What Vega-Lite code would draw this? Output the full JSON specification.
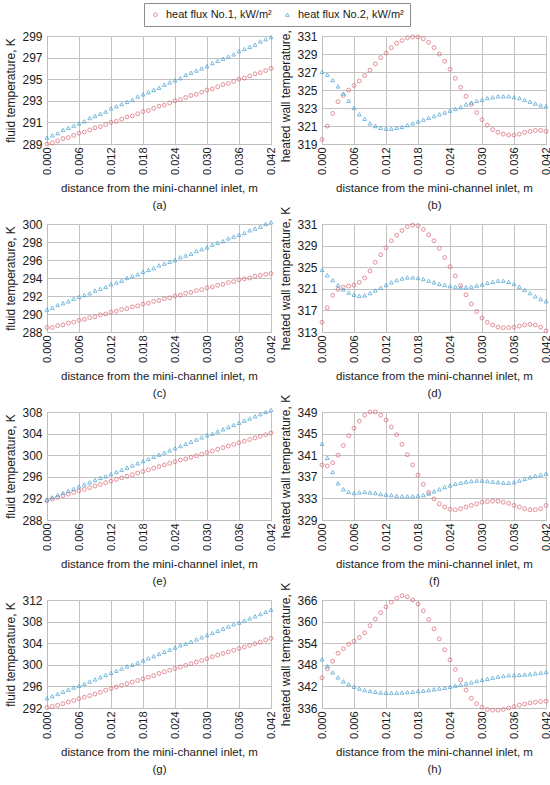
{
  "$schema": "https://vega.github.io/schema/vega-lite/v6.json",
  "padding": {"left": 4, "top": 2, "right": 4, "bottom": 2},
  "columns": 2,
  "bounds": "flush",
  "spacing": {"row": 80, "column": 51},
  "config": {
    "font": "Liberation Sans",
    "view": {"stroke": "#bdbdbd"},
    "axis": {"gridColor": "#c2c2c2", "domainColor": "#bdbdbd", "ticks": false, "labelColor": "#1a1a1a", "titleColor": "#1a1a1a", "titleFontWeight": "normal"},
    "axisX": {"labelAngle": -90, "labelFontSize": 11, "labelPadding": 3, "titleFontSize": 11.5, "titlePadding": 8, "titleLineHeight": 17},
    "axisY": {"labelFontSize": 12, "labelPadding": 5, "titleFontSize": 12, "titlePadding": 4},
    "point": {"filled": false, "size": 15, "strokeWidth": 1},
    "range": {"category": ["#d9606b", "#3f9fd5"], "symbol": ["circle", "triangle-up"]},
    "legend": {"labelFontSize": 11, "labelColor": "#1a1a1a", "symbolSize": 14, "symbolStrokeWidth": 1, "labelOffset": 5, "columnPadding": 10, "strokeColor": "#8c8c8c", "fillColor": "#ffffff", "padding": 6}
  },
  "datasets": {
    "a1": [{"x":0,"t":289.0},{"x":0.001,"t":289.1},{"x":0.002,"t":289.3},{"x":0.003,"t":289.5},{"x":0.004,"t":289.6},{"x":0.005,"t":289.8},{"x":0.006,"t":290.0},{"x":0.007,"t":290.1},{"x":0.008,"t":290.3},{"x":0.009,"t":290.5},{"x":0.01,"t":290.6},{"x":0.011,"t":290.8},{"x":0.012,"t":291.0},{"x":0.013,"t":291.1},{"x":0.014,"t":291.3},{"x":0.015,"t":291.5},{"x":0.016,"t":291.6},{"x":0.017,"t":291.8},{"x":0.018,"t":292.0},{"x":0.019,"t":292.1},{"x":0.02,"t":292.3},{"x":0.021,"t":292.5},{"x":0.022,"t":292.6},{"x":0.023,"t":292.8},{"x":0.024,"t":293.0},{"x":0.025,"t":293.1},{"x":0.026,"t":293.3},{"x":0.027,"t":293.5},{"x":0.028,"t":293.6},{"x":0.029,"t":293.8},{"x":0.03,"t":294.0},{"x":0.031,"t":294.1},{"x":0.032,"t":294.3},{"x":0.033,"t":294.5},{"x":0.034,"t":294.6},{"x":0.035,"t":294.8},{"x":0.036,"t":295.0},{"x":0.037,"t":295.1},{"x":0.038,"t":295.3},{"x":0.039,"t":295.5},{"x":0.04,"t":295.6},{"x":0.041,"t":295.8},{"x":0.042,"t":296.0}],
    "a2": [{"x":0,"t":289.6},{"x":0.001,"t":289.8},{"x":0.002,"t":290.0},{"x":0.003,"t":290.3},{"x":0.004,"t":290.5},{"x":0.005,"t":290.7},{"x":0.006,"t":290.9},{"x":0.007,"t":291.1},{"x":0.008,"t":291.4},{"x":0.009,"t":291.6},{"x":0.01,"t":291.8},{"x":0.011,"t":292.0},{"x":0.012,"t":292.3},{"x":0.013,"t":292.5},{"x":0.014,"t":292.7},{"x":0.015,"t":292.9},{"x":0.016,"t":293.1},{"x":0.017,"t":293.4},{"x":0.018,"t":293.6},{"x":0.019,"t":293.8},{"x":0.02,"t":294.0},{"x":0.021,"t":294.2},{"x":0.022,"t":294.5},{"x":0.023,"t":294.7},{"x":0.024,"t":294.9},{"x":0.025,"t":295.1},{"x":0.026,"t":295.4},{"x":0.027,"t":295.6},{"x":0.028,"t":295.8},{"x":0.029,"t":296.0},{"x":0.03,"t":296.2},{"x":0.031,"t":296.5},{"x":0.032,"t":296.7},{"x":0.033,"t":296.9},{"x":0.034,"t":297.1},{"x":0.035,"t":297.3},{"x":0.036,"t":297.6},{"x":0.037,"t":297.8},{"x":0.038,"t":298.0},{"x":0.039,"t":298.2},{"x":0.04,"t":298.5},{"x":0.041,"t":298.7},{"x":0.042,"t":298.9}],
    "b1": [{"x":0,"t":319.5},{"x":0.001,"t":321.0},{"x":0.002,"t":322.4},{"x":0.003,"t":323.7},{"x":0.004,"t":324.4},{"x":0.005,"t":325.0},{"x":0.006,"t":325.5},{"x":0.007,"t":326.0},{"x":0.008,"t":326.6},{"x":0.009,"t":327.2},{"x":0.01,"t":327.9},{"x":0.011,"t":328.6},{"x":0.012,"t":329.1},{"x":0.013,"t":329.7},{"x":0.014,"t":330.2},{"x":0.015,"t":330.5},{"x":0.016,"t":330.8},{"x":0.017,"t":330.9},{"x":0.018,"t":330.9},{"x":0.019,"t":330.7},{"x":0.02,"t":330.3},{"x":0.021,"t":329.7},{"x":0.022,"t":329.0},{"x":0.023,"t":328.2},{"x":0.024,"t":327.3},{"x":0.025,"t":326.3},{"x":0.026,"t":325.3},{"x":0.027,"t":324.3},{"x":0.028,"t":323.4},{"x":0.029,"t":322.5},{"x":0.03,"t":321.7},{"x":0.031,"t":321.1},{"x":0.032,"t":320.6},{"x":0.033,"t":320.3},{"x":0.034,"t":320.1},{"x":0.035,"t":320.0},{"x":0.036,"t":320.0},{"x":0.037,"t":320.1},{"x":0.038,"t":320.3},{"x":0.039,"t":320.4},{"x":0.04,"t":320.5},{"x":0.041,"t":320.5},{"x":0.042,"t":320.4}],
    "b2": [{"x":0,"t":327.0},{"x":0.001,"t":326.7},{"x":0.002,"t":326.1},{"x":0.003,"t":325.4},{"x":0.004,"t":324.6},{"x":0.005,"t":323.8},{"x":0.006,"t":323.0},{"x":0.007,"t":322.3},{"x":0.008,"t":321.8},{"x":0.009,"t":321.3},{"x":0.01,"t":321.0},{"x":0.011,"t":320.8},{"x":0.012,"t":320.7},{"x":0.013,"t":320.7},{"x":0.014,"t":320.8},{"x":0.015,"t":320.9},{"x":0.016,"t":321.1},{"x":0.017,"t":321.3},{"x":0.018,"t":321.5},{"x":0.019,"t":321.7},{"x":0.02,"t":321.9},{"x":0.021,"t":322.1},{"x":0.022,"t":322.3},{"x":0.023,"t":322.5},{"x":0.024,"t":322.7},{"x":0.025,"t":322.9},{"x":0.026,"t":323.1},{"x":0.027,"t":323.4},{"x":0.028,"t":323.6},{"x":0.029,"t":323.8},{"x":0.03,"t":323.9},{"x":0.031,"t":324.1},{"x":0.032,"t":324.2},{"x":0.033,"t":324.3},{"x":0.034,"t":324.3},{"x":0.035,"t":324.3},{"x":0.036,"t":324.2},{"x":0.037,"t":324.1},{"x":0.038,"t":323.9},{"x":0.039,"t":323.7},{"x":0.04,"t":323.5},{"x":0.041,"t":323.3},{"x":0.042,"t":323.2}],
    "c1": [{"x":0,"t":288.5},{"x":0.001,"t":288.5},{"x":0.002,"t":288.7},{"x":0.003,"t":288.8},{"x":0.004,"t":289.0},{"x":0.005,"t":289.1},{"x":0.006,"t":289.3},{"x":0.007,"t":289.4},{"x":0.008,"t":289.6},{"x":0.009,"t":289.7},{"x":0.01,"t":289.9},{"x":0.011,"t":290.0},{"x":0.012,"t":290.2},{"x":0.013,"t":290.3},{"x":0.014,"t":290.5},{"x":0.015,"t":290.6},{"x":0.016,"t":290.8},{"x":0.017,"t":290.9},{"x":0.018,"t":291.1},{"x":0.019,"t":291.2},{"x":0.02,"t":291.4},{"x":0.021,"t":291.5},{"x":0.022,"t":291.7},{"x":0.023,"t":291.8},{"x":0.024,"t":292.0},{"x":0.025,"t":292.1},{"x":0.026,"t":292.3},{"x":0.027,"t":292.4},{"x":0.028,"t":292.6},{"x":0.029,"t":292.7},{"x":0.03,"t":292.9},{"x":0.031,"t":293.0},{"x":0.032,"t":293.2},{"x":0.033,"t":293.3},{"x":0.034,"t":293.5},{"x":0.035,"t":293.6},{"x":0.036,"t":293.8},{"x":0.037,"t":293.9},{"x":0.038,"t":294.0},{"x":0.039,"t":294.2},{"x":0.04,"t":294.3},{"x":0.041,"t":294.4},{"x":0.042,"t":294.5}],
    "c2": [{"x":0,"t":290.5},{"x":0.001,"t":290.7},{"x":0.002,"t":291.0},{"x":0.003,"t":291.2},{"x":0.004,"t":291.4},{"x":0.005,"t":291.7},{"x":0.006,"t":291.9},{"x":0.007,"t":292.1},{"x":0.008,"t":292.3},{"x":0.009,"t":292.6},{"x":0.01,"t":292.8},{"x":0.011,"t":293.0},{"x":0.012,"t":293.3},{"x":0.013,"t":293.5},{"x":0.014,"t":293.7},{"x":0.015,"t":294.0},{"x":0.016,"t":294.2},{"x":0.017,"t":294.4},{"x":0.018,"t":294.7},{"x":0.019,"t":294.9},{"x":0.02,"t":295.1},{"x":0.021,"t":295.4},{"x":0.022,"t":295.6},{"x":0.023,"t":295.8},{"x":0.024,"t":296.0},{"x":0.025,"t":296.3},{"x":0.026,"t":296.5},{"x":0.027,"t":296.7},{"x":0.028,"t":297.0},{"x":0.029,"t":297.2},{"x":0.03,"t":297.4},{"x":0.031,"t":297.7},{"x":0.032,"t":297.9},{"x":0.033,"t":298.1},{"x":0.034,"t":298.4},{"x":0.035,"t":298.6},{"x":0.036,"t":298.8},{"x":0.037,"t":299.0},{"x":0.038,"t":299.3},{"x":0.039,"t":299.5},{"x":0.04,"t":299.7},{"x":0.041,"t":300.0},{"x":0.042,"t":300.2}],
    "d1": [{"x":0,"t":314.8},{"x":0.001,"t":317.5},{"x":0.002,"t":319.8},{"x":0.003,"t":320.9},{"x":0.004,"t":321.3},{"x":0.005,"t":321.5},{"x":0.006,"t":321.7},{"x":0.007,"t":322.2},{"x":0.008,"t":323.0},{"x":0.009,"t":324.3},{"x":0.01,"t":325.9},{"x":0.011,"t":327.3},{"x":0.012,"t":328.6},{"x":0.013,"t":329.9},{"x":0.014,"t":330.9},{"x":0.015,"t":331.8},{"x":0.016,"t":332.5},{"x":0.017,"t":332.8},{"x":0.018,"t":332.7},{"x":0.019,"t":332.0},{"x":0.02,"t":331.0},{"x":0.021,"t":329.9},{"x":0.022,"t":328.5},{"x":0.023,"t":326.8},{"x":0.024,"t":325.1},{"x":0.025,"t":323.4},{"x":0.026,"t":321.6},{"x":0.027,"t":319.9},{"x":0.028,"t":318.2},{"x":0.029,"t":316.8},{"x":0.03,"t":315.6},{"x":0.031,"t":314.8},{"x":0.032,"t":314.3},{"x":0.033,"t":313.9},{"x":0.034,"t":313.8},{"x":0.035,"t":313.8},{"x":0.036,"t":313.9},{"x":0.037,"t":314.1},{"x":0.038,"t":314.3},{"x":0.039,"t":314.4},{"x":0.04,"t":314.3},{"x":0.041,"t":313.9},{"x":0.042,"t":313.2}],
    "d2": [{"x":0,"t":324.5},{"x":0.001,"t":323.5},{"x":0.002,"t":322.6},{"x":0.003,"t":321.7},{"x":0.004,"t":320.9},{"x":0.005,"t":320.3},{"x":0.006,"t":319.9},{"x":0.007,"t":319.7},{"x":0.008,"t":319.8},{"x":0.009,"t":320.2},{"x":0.01,"t":320.7},{"x":0.011,"t":321.2},{"x":0.012,"t":321.7},{"x":0.013,"t":322.2},{"x":0.014,"t":322.6},{"x":0.015,"t":322.9},{"x":0.016,"t":323.1},{"x":0.017,"t":323.1},{"x":0.018,"t":323.0},{"x":0.019,"t":322.8},{"x":0.02,"t":322.5},{"x":0.021,"t":322.2},{"x":0.022,"t":321.9},{"x":0.023,"t":321.7},{"x":0.024,"t":321.5},{"x":0.025,"t":321.4},{"x":0.026,"t":321.3},{"x":0.027,"t":321.3},{"x":0.028,"t":321.4},{"x":0.029,"t":321.6},{"x":0.03,"t":321.8},{"x":0.031,"t":322.1},{"x":0.032,"t":322.3},{"x":0.033,"t":322.5},{"x":0.034,"t":322.5},{"x":0.035,"t":322.3},{"x":0.036,"t":321.9},{"x":0.037,"t":321.4},{"x":0.038,"t":320.8},{"x":0.039,"t":320.2},{"x":0.04,"t":319.6},{"x":0.041,"t":319.1},{"x":0.042,"t":318.7}],
    "e1": [{"x":0,"t":291.6},{"x":0.001,"t":291.9},{"x":0.002,"t":292.2},{"x":0.003,"t":292.5},{"x":0.004,"t":292.8},{"x":0.005,"t":293.1},{"x":0.006,"t":293.4},{"x":0.007,"t":293.7},{"x":0.008,"t":294.0},{"x":0.009,"t":294.3},{"x":0.01,"t":294.6},{"x":0.011,"t":294.9},{"x":0.012,"t":295.2},{"x":0.013,"t":295.5},{"x":0.014,"t":295.8},{"x":0.015,"t":296.1},{"x":0.016,"t":296.4},{"x":0.017,"t":296.7},{"x":0.018,"t":297.0},{"x":0.019,"t":297.3},{"x":0.02,"t":297.6},{"x":0.021,"t":297.9},{"x":0.022,"t":298.2},{"x":0.023,"t":298.5},{"x":0.024,"t":298.8},{"x":0.025,"t":299.1},{"x":0.026,"t":299.3},{"x":0.027,"t":299.6},{"x":0.028,"t":299.9},{"x":0.029,"t":300.2},{"x":0.03,"t":300.5},{"x":0.031,"t":300.8},{"x":0.032,"t":301.1},{"x":0.033,"t":301.4},{"x":0.034,"t":301.7},{"x":0.035,"t":302.0},{"x":0.036,"t":302.3},{"x":0.037,"t":302.6},{"x":0.038,"t":302.9},{"x":0.039,"t":303.2},{"x":0.04,"t":303.5},{"x":0.041,"t":303.8},{"x":0.042,"t":304.1}],
    "e2": [{"x":0,"t":291.8},{"x":0.001,"t":292.2},{"x":0.002,"t":292.6},{"x":0.003,"t":293.0},{"x":0.004,"t":293.4},{"x":0.005,"t":293.8},{"x":0.006,"t":294.2},{"x":0.007,"t":294.6},{"x":0.008,"t":295.0},{"x":0.009,"t":295.4},{"x":0.01,"t":295.8},{"x":0.011,"t":296.1},{"x":0.012,"t":296.5},{"x":0.013,"t":296.9},{"x":0.014,"t":297.3},{"x":0.015,"t":297.7},{"x":0.016,"t":298.1},{"x":0.017,"t":298.5},{"x":0.018,"t":298.9},{"x":0.019,"t":299.3},{"x":0.02,"t":299.7},{"x":0.021,"t":300.1},{"x":0.022,"t":300.5},{"x":0.023,"t":300.9},{"x":0.024,"t":301.3},{"x":0.025,"t":301.7},{"x":0.026,"t":302.1},{"x":0.027,"t":302.5},{"x":0.028,"t":302.9},{"x":0.029,"t":303.3},{"x":0.03,"t":303.7},{"x":0.031,"t":304.0},{"x":0.032,"t":304.4},{"x":0.033,"t":304.8},{"x":0.034,"t":305.2},{"x":0.035,"t":305.6},{"x":0.036,"t":306.0},{"x":0.037,"t":306.4},{"x":0.038,"t":306.8},{"x":0.039,"t":307.2},{"x":0.04,"t":307.6},{"x":0.041,"t":308.0},{"x":0.042,"t":308.4}],
    "f1": [{"x":0,"t":339.2},{"x":0.001,"t":339.0},{"x":0.002,"t":339.6},{"x":0.003,"t":341.0},{"x":0.004,"t":342.8},{"x":0.005,"t":344.6},{"x":0.006,"t":346.0},{"x":0.007,"t":347.3},{"x":0.008,"t":348.4},{"x":0.009,"t":349.0},{"x":0.01,"t":349.0},{"x":0.011,"t":348.4},{"x":0.012,"t":347.5},{"x":0.013,"t":346.2},{"x":0.014,"t":344.8},{"x":0.015,"t":343.0},{"x":0.016,"t":341.1},{"x":0.017,"t":339.2},{"x":0.018,"t":337.3},{"x":0.019,"t":335.6},{"x":0.02,"t":334.1},{"x":0.021,"t":332.9},{"x":0.022,"t":332.0},{"x":0.023,"t":331.4},{"x":0.024,"t":331.0},{"x":0.025,"t":330.9},{"x":0.026,"t":331.1},{"x":0.027,"t":331.4},{"x":0.028,"t":331.7},{"x":0.029,"t":332.0},{"x":0.03,"t":332.3},{"x":0.031,"t":332.4},{"x":0.032,"t":332.5},{"x":0.033,"t":332.5},{"x":0.034,"t":332.3},{"x":0.035,"t":332.1},{"x":0.036,"t":331.7},{"x":0.037,"t":331.4},{"x":0.038,"t":331.1},{"x":0.039,"t":330.9},{"x":0.04,"t":330.9},{"x":0.041,"t":331.1},{"x":0.042,"t":331.7}],
    "f2": [{"x":0,"t":343.1},{"x":0.001,"t":340.5},{"x":0.002,"t":337.9},{"x":0.003,"t":335.8},{"x":0.004,"t":334.7},{"x":0.005,"t":334.2},{"x":0.006,"t":334.0},{"x":0.007,"t":334.1},{"x":0.008,"t":334.2},{"x":0.009,"t":334.1},{"x":0.01,"t":334.0},{"x":0.011,"t":333.8},{"x":0.012,"t":333.7},{"x":0.013,"t":333.6},{"x":0.014,"t":333.5},{"x":0.015,"t":333.4},{"x":0.016,"t":333.4},{"x":0.017,"t":333.4},{"x":0.018,"t":333.5},{"x":0.019,"t":333.6},{"x":0.02,"t":333.9},{"x":0.021,"t":334.3},{"x":0.022,"t":334.7},{"x":0.023,"t":335.1},{"x":0.024,"t":335.4},{"x":0.025,"t":335.7},{"x":0.026,"t":335.9},{"x":0.027,"t":336.1},{"x":0.028,"t":336.2},{"x":0.029,"t":336.3},{"x":0.03,"t":336.3},{"x":0.031,"t":336.2},{"x":0.032,"t":336.1},{"x":0.033,"t":336.0},{"x":0.034,"t":335.9},{"x":0.035,"t":335.9},{"x":0.036,"t":336.0},{"x":0.037,"t":336.3},{"x":0.038,"t":336.6},{"x":0.039,"t":336.9},{"x":0.04,"t":337.2},{"x":0.041,"t":337.4},{"x":0.042,"t":337.6}],
    "g1": [{"x":0,"t":292.1},{"x":0.001,"t":292.3},{"x":0.002,"t":292.5},{"x":0.003,"t":292.8},{"x":0.004,"t":293.1},{"x":0.005,"t":293.4},{"x":0.006,"t":293.7},{"x":0.007,"t":294.0},{"x":0.008,"t":294.3},{"x":0.009,"t":294.6},{"x":0.01,"t":294.9},{"x":0.011,"t":295.3},{"x":0.012,"t":295.6},{"x":0.013,"t":295.9},{"x":0.014,"t":296.2},{"x":0.015,"t":296.5},{"x":0.016,"t":296.8},{"x":0.017,"t":297.1},{"x":0.018,"t":297.4},{"x":0.019,"t":297.7},{"x":0.02,"t":298.0},{"x":0.021,"t":298.4},{"x":0.022,"t":298.7},{"x":0.023,"t":299.0},{"x":0.024,"t":299.3},{"x":0.025,"t":299.6},{"x":0.026,"t":299.9},{"x":0.027,"t":300.2},{"x":0.028,"t":300.5},{"x":0.029,"t":300.8},{"x":0.03,"t":301.1},{"x":0.031,"t":301.5},{"x":0.032,"t":301.8},{"x":0.033,"t":302.1},{"x":0.034,"t":302.4},{"x":0.035,"t":302.7},{"x":0.036,"t":303.0},{"x":0.037,"t":303.3},{"x":0.038,"t":303.6},{"x":0.039,"t":303.9},{"x":0.04,"t":304.2},{"x":0.041,"t":304.6},{"x":0.042,"t":304.9}],
    "g2": [{"x":0,"t":293.8},{"x":0.001,"t":294.2},{"x":0.002,"t":294.6},{"x":0.003,"t":295.0},{"x":0.004,"t":295.4},{"x":0.005,"t":295.8},{"x":0.006,"t":296.1},{"x":0.007,"t":296.5},{"x":0.008,"t":296.9},{"x":0.009,"t":297.3},{"x":0.01,"t":297.7},{"x":0.011,"t":298.1},{"x":0.012,"t":298.5},{"x":0.013,"t":298.9},{"x":0.014,"t":299.3},{"x":0.015,"t":299.7},{"x":0.016,"t":300.0},{"x":0.017,"t":300.4},{"x":0.018,"t":300.8},{"x":0.019,"t":301.2},{"x":0.02,"t":301.6},{"x":0.021,"t":302.0},{"x":0.022,"t":302.4},{"x":0.023,"t":302.8},{"x":0.024,"t":303.2},{"x":0.025,"t":303.6},{"x":0.026,"t":303.9},{"x":0.027,"t":304.3},{"x":0.028,"t":304.7},{"x":0.029,"t":305.1},{"x":0.03,"t":305.5},{"x":0.031,"t":305.9},{"x":0.032,"t":306.3},{"x":0.033,"t":306.7},{"x":0.034,"t":307.1},{"x":0.035,"t":307.5},{"x":0.036,"t":307.8},{"x":0.037,"t":308.2},{"x":0.038,"t":308.6},{"x":0.039,"t":309.0},{"x":0.04,"t":309.4},{"x":0.041,"t":309.8},{"x":0.042,"t":310.2}],
    "h1": [{"x":0,"t":344.4},{"x":0.001,"t":346.9},{"x":0.002,"t":349.0},{"x":0.003,"t":351.2},{"x":0.004,"t":352.5},{"x":0.005,"t":353.7},{"x":0.006,"t":354.6},{"x":0.007,"t":355.6},{"x":0.008,"t":356.9},{"x":0.009,"t":358.9},{"x":0.01,"t":360.7},{"x":0.011,"t":362.5},{"x":0.012,"t":364.1},{"x":0.013,"t":365.4},{"x":0.014,"t":366.5},{"x":0.015,"t":367.2},{"x":0.016,"t":366.9},{"x":0.017,"t":366.0},{"x":0.018,"t":364.9},{"x":0.019,"t":363.0},{"x":0.02,"t":360.6},{"x":0.021,"t":358.0},{"x":0.022,"t":355.2},{"x":0.023,"t":352.2},{"x":0.024,"t":349.4},{"x":0.025,"t":346.7},{"x":0.026,"t":343.8},{"x":0.027,"t":341.0},{"x":0.028,"t":338.7},{"x":0.029,"t":337.2},{"x":0.03,"t":336.2},{"x":0.031,"t":335.6},{"x":0.032,"t":335.4},{"x":0.033,"t":335.4},{"x":0.034,"t":335.6},{"x":0.035,"t":336.0},{"x":0.036,"t":336.4},{"x":0.037,"t":336.8},{"x":0.038,"t":337.1},{"x":0.039,"t":337.4},{"x":0.04,"t":337.6},{"x":0.041,"t":337.8},{"x":0.042,"t":337.9}],
    "h2": [{"x":0,"t":349.5},{"x":0.001,"t":347.6},{"x":0.002,"t":345.9},{"x":0.003,"t":344.5},{"x":0.004,"t":343.4},{"x":0.005,"t":342.6},{"x":0.006,"t":341.9},{"x":0.007,"t":341.4},{"x":0.008,"t":341.0},{"x":0.009,"t":340.7},{"x":0.01,"t":340.5},{"x":0.011,"t":340.3},{"x":0.012,"t":340.2},{"x":0.013,"t":340.2},{"x":0.014,"t":340.2},{"x":0.015,"t":340.3},{"x":0.016,"t":340.4},{"x":0.017,"t":340.5},{"x":0.018,"t":340.7},{"x":0.019,"t":340.8},{"x":0.02,"t":341.0},{"x":0.021,"t":341.2},{"x":0.022,"t":341.4},{"x":0.023,"t":341.6},{"x":0.024,"t":341.9},{"x":0.025,"t":342.2},{"x":0.026,"t":342.5},{"x":0.027,"t":342.8},{"x":0.028,"t":343.1},{"x":0.029,"t":343.5},{"x":0.03,"t":343.8},{"x":0.031,"t":344.1},{"x":0.032,"t":344.4},{"x":0.033,"t":344.7},{"x":0.034,"t":344.9},{"x":0.035,"t":345.1},{"x":0.036,"t":345.1},{"x":0.037,"t":345.2},{"x":0.038,"t":345.3},{"x":0.039,"t":345.4},{"x":0.04,"t":345.6},{"x":0.041,"t":345.8},{"x":0.042,"t":346.0}]
  },
  "concat": [
    {
      "width": 224, "height": 108,
      "encoding": {
        "x": {"field": "x", "type": "quantitative", "scale": {"domain": [0, 0.042], "nice": false}, "axis": {"values": [0, 0.006, 0.012, 0.018, 0.024, 0.03, 0.036, 0.042], "format": ".3f", "title": ["distance from the mini-channel inlet, m", "(a)"]}},
        "y": {"field": "t", "type": "quantitative", "scale": {"domain": [289, 299], "nice": false, "zero": false}, "axis": {"values": [289, 291, 293, 295, 297, 299], "title": "fluid temperature, K"}}
      },
      "layer": [
        {"data": {"name": "a1"}, "mark": "point", "encoding": {"color": {"datum": "heat flux No.1, kW/m²", "legend": {"title": null, "orient": "none", "legendX": 97, "legendY": -33, "direction": "horizontal", "strokeColor": "#8c8c8c", "fillColor": "#ffffff", "padding": 6}}, "shape": {"datum": "heat flux No.1, kW/m²", "legend": {"title": null, "orient": "none", "legendX": 97, "legendY": -33, "direction": "horizontal", "strokeColor": "#8c8c8c", "fillColor": "#ffffff", "padding": 6}}}},
        {"data": {"name": "a2"}, "mark": "point", "encoding": {"color": {"datum": "heat flux No.2, kW/m²"}, "shape": {"datum": "heat flux No.2, kW/m²"}}},
        {"data": {"values": [{"fluid": "HFE-649"}]}, "mark": {"type": "text", "align": "left", "baseline": "top", "dx": 10, "dy": 5, "fontSize": 12, "fontWeight": "bold", "color": "#1a1a1a"}, "encoding": {"x": {"datum": 0}, "y": {"datum": 299}, "text": {"field": "fluid"}}}
      ]
    },
    {
      "width": 224, "height": 108,
      "encoding": {
        "x": {"field": "x", "type": "quantitative", "scale": {"domain": [0, 0.042], "nice": false}, "axis": {"values": [0, 0.006, 0.012, 0.018, 0.024, 0.03, 0.036, 0.042], "format": ".3f", "title": ["distance from the mini-channel inlet, m", "(b)"]}},
        "y": {"field": "t", "type": "quantitative", "scale": {"domain": [319, 331], "nice": false, "zero": false}, "axis": {"values": [319, 321, 323, 325, 327, 329, 331], "title": "heated wall temperature, K"}}
      },
      "layer": [
        {"data": {"name": "b1"}, "mark": "point", "encoding": {"color": {"datum": "heat flux No.1, kW/m²"}, "shape": {"datum": "heat flux No.1, kW/m²"}}},
        {"data": {"name": "b2"}, "mark": "point", "encoding": {"color": {"datum": "heat flux No.2, kW/m²"}, "shape": {"datum": "heat flux No.2, kW/m²"}}},
        {"data": {"values": [{"fluid": "HFE-649"}]}, "mark": {"type": "text", "align": "right", "baseline": "top", "dx": -10, "dy": 5, "fontSize": 12, "fontWeight": "bold", "color": "#1a1a1a"}, "encoding": {"x": {"datum": 0.042}, "y": {"datum": 331}, "text": {"field": "fluid"}}}
      ]
    },
    {
      "width": 224, "height": 108,
      "encoding": {
        "x": {"field": "x", "type": "quantitative", "scale": {"domain": [0, 0.042], "nice": false}, "axis": {"values": [0, 0.006, 0.012, 0.018, 0.024, 0.03, 0.036, 0.042], "format": ".3f", "title": ["distance from the mini-channel inlet, m", "(c)"]}},
        "y": {"field": "t", "type": "quantitative", "scale": {"domain": [288, 300], "nice": false, "zero": false}, "axis": {"values": [288, 290, 292, 294, 296, 298, 300], "title": "fluid temperature, K"}}
      },
      "layer": [
        {"data": {"name": "c1"}, "mark": "point", "encoding": {"color": {"datum": "heat flux No.1, kW/m²"}, "shape": {"datum": "heat flux No.1, kW/m²"}}},
        {"data": {"name": "c2"}, "mark": "point", "encoding": {"color": {"datum": "heat flux No.2, kW/m²"}, "shape": {"datum": "heat flux No.2, kW/m²"}}},
        {"data": {"values": [{"fluid": "HFE-7000"}]}, "mark": {"type": "text", "align": "left", "baseline": "top", "dx": 10, "dy": 5, "fontSize": 12, "fontWeight": "bold", "color": "#1a1a1a"}, "encoding": {"x": {"datum": 0}, "y": {"datum": 300}, "text": {"field": "fluid"}}}
      ]
    },
    {
      "width": 224, "height": 108,
      "encoding": {
        "x": {"field": "x", "type": "quantitative", "scale": {"domain": [0, 0.042], "nice": false}, "axis": {"values": [0, 0.006, 0.012, 0.018, 0.024, 0.03, 0.036, 0.042], "format": ".3f", "title": ["distance from the mini-channel inlet, m", "(d)"]}},
        "y": {"field": "t", "type": "quantitative", "scale": {"domain": [313, 333], "nice": false, "zero": false}, "axis": {"values": [313, 317, 321, 325, 329, 333], "labelExpr": "datum.value == 333 ? '331' : datum.label", "title": "heated wall temperature, K"}}
      },
      "layer": [
        {"data": {"name": "d1"}, "mark": "point", "encoding": {"color": {"datum": "heat flux No.1, kW/m²"}, "shape": {"datum": "heat flux No.1, kW/m²"}}},
        {"data": {"name": "d2"}, "mark": "point", "encoding": {"color": {"datum": "heat flux No.2, kW/m²"}, "shape": {"datum": "heat flux No.2, kW/m²"}}},
        {"data": {"values": [{"fluid": "HFE-7000"}]}, "mark": {"type": "text", "align": "right", "baseline": "top", "dx": -10, "dy": 5, "fontSize": 12, "fontWeight": "bold", "color": "#1a1a1a"}, "encoding": {"x": {"datum": 0.042}, "y": {"datum": 333}, "text": {"field": "fluid"}}}
      ]
    },
    {
      "width": 224, "height": 108,
      "encoding": {
        "x": {"field": "x", "type": "quantitative", "scale": {"domain": [0, 0.042], "nice": false}, "axis": {"values": [0, 0.006, 0.012, 0.018, 0.024, 0.03, 0.036, 0.042], "format": ".3f", "title": ["distance from the mini-channel inlet, m", "(e)"]}},
        "y": {"field": "t", "type": "quantitative", "scale": {"domain": [288, 308], "nice": false, "zero": false}, "axis": {"values": [288, 292, 296, 300, 304, 308], "title": "fluid temperature, K"}}
      },
      "layer": [
        {"data": {"name": "e1"}, "mark": "point", "encoding": {"color": {"datum": "heat flux No.1, kW/m²"}, "shape": {"datum": "heat flux No.1, kW/m²"}}},
        {"data": {"name": "e2"}, "mark": "point", "encoding": {"color": {"datum": "heat flux No.2, kW/m²"}, "shape": {"datum": "heat flux No.2, kW/m²"}}},
        {"data": {"values": [{"fluid": "HFE-7100"}]}, "mark": {"type": "text", "align": "left", "baseline": "top", "dx": 10, "dy": 5, "fontSize": 12, "fontWeight": "bold", "color": "#1a1a1a"}, "encoding": {"x": {"datum": 0}, "y": {"datum": 308}, "text": {"field": "fluid"}}}
      ]
    },
    {
      "width": 224, "height": 108,
      "encoding": {
        "x": {"field": "x", "type": "quantitative", "scale": {"domain": [0, 0.042], "nice": false}, "axis": {"values": [0, 0.006, 0.012, 0.018, 0.024, 0.03, 0.036, 0.042], "format": ".3f", "title": ["distance from the mini-channel inlet, m", "(f)"]}},
        "y": {"field": "t", "type": "quantitative", "scale": {"domain": [329, 349], "nice": false, "zero": false}, "axis": {"values": [329, 333, 337, 341, 345, 349], "title": "heated wall temperature, K"}}
      },
      "layer": [
        {"data": {"name": "f1"}, "mark": "point", "encoding": {"color": {"datum": "heat flux No.1, kW/m²"}, "shape": {"datum": "heat flux No.1, kW/m²"}}},
        {"data": {"name": "f2"}, "mark": "point", "encoding": {"color": {"datum": "heat flux No.2, kW/m²"}, "shape": {"datum": "heat flux No.2, kW/m²"}}},
        {"data": {"values": [{"fluid": "HFE-7100"}]}, "mark": {"type": "text", "align": "right", "baseline": "top", "dx": -10, "dy": 5, "fontSize": 12, "fontWeight": "bold", "color": "#1a1a1a"}, "encoding": {"x": {"datum": 0.042}, "y": {"datum": 349}, "text": {"field": "fluid"}}}
      ]
    },
    {
      "width": 224, "height": 108,
      "encoding": {
        "x": {"field": "x", "type": "quantitative", "scale": {"domain": [0, 0.042], "nice": false}, "axis": {"values": [0, 0.006, 0.012, 0.018, 0.024, 0.03, 0.036, 0.042], "format": ".3f", "title": ["distance from the mini-channel inlet, m", "(g)"]}},
        "y": {"field": "t", "type": "quantitative", "scale": {"domain": [292, 312], "nice": false, "zero": false}, "axis": {"values": [292, 296, 300, 304, 308, 312], "title": "fluid temperature, K"}}
      },
      "layer": [
        {"data": {"name": "g1"}, "mark": "point", "encoding": {"color": {"datum": "heat flux No.1, kW/m²"}, "shape": {"datum": "heat flux No.1, kW/m²"}}},
        {"data": {"name": "g2"}, "mark": "point", "encoding": {"color": {"datum": "heat flux No.2, kW/m²"}, "shape": {"datum": "heat flux No.2, kW/m²"}}},
        {"data": {"values": [{"fluid": "HFE-7200"}]}, "mark": {"type": "text", "align": "left", "baseline": "top", "dx": 10, "dy": 5, "fontSize": 12, "fontWeight": "bold", "color": "#1a1a1a"}, "encoding": {"x": {"datum": 0}, "y": {"datum": 312}, "text": {"field": "fluid"}}}
      ]
    },
    {
      "width": 224, "height": 108,
      "encoding": {
        "x": {"field": "x", "type": "quantitative", "scale": {"domain": [0, 0.042], "nice": false}, "axis": {"values": [0, 0.006, 0.012, 0.018, 0.024, 0.03, 0.036, 0.042], "format": ".3f", "title": ["distance from the mini-channel inlet, m", "(h)"]}},
        "y": {"field": "t", "type": "quantitative", "scale": {"domain": [336, 366], "nice": false, "zero": false}, "axis": {"values": [336, 342, 348, 354, 360, 366], "title": "heated wall temperature, K"}}
      },
      "layer": [
        {"data": {"name": "h1"}, "mark": "point", "encoding": {"color": {"datum": "heat flux No.1, kW/m²"}, "shape": {"datum": "heat flux No.1, kW/m²"}}},
        {"data": {"name": "h2"}, "mark": "point", "encoding": {"color": {"datum": "heat flux No.2, kW/m²"}, "shape": {"datum": "heat flux No.2, kW/m²"}}},
        {"data": {"values": [{"fluid": "HFE-7200"}]}, "mark": {"type": "text", "align": "right", "baseline": "top", "dx": -10, "dy": 5, "fontSize": 12, "fontWeight": "bold", "color": "#1a1a1a"}, "encoding": {"x": {"datum": 0.042}, "y": {"datum": 366}, "text": {"field": "fluid"}}}
      ]
    }
  ]
}
